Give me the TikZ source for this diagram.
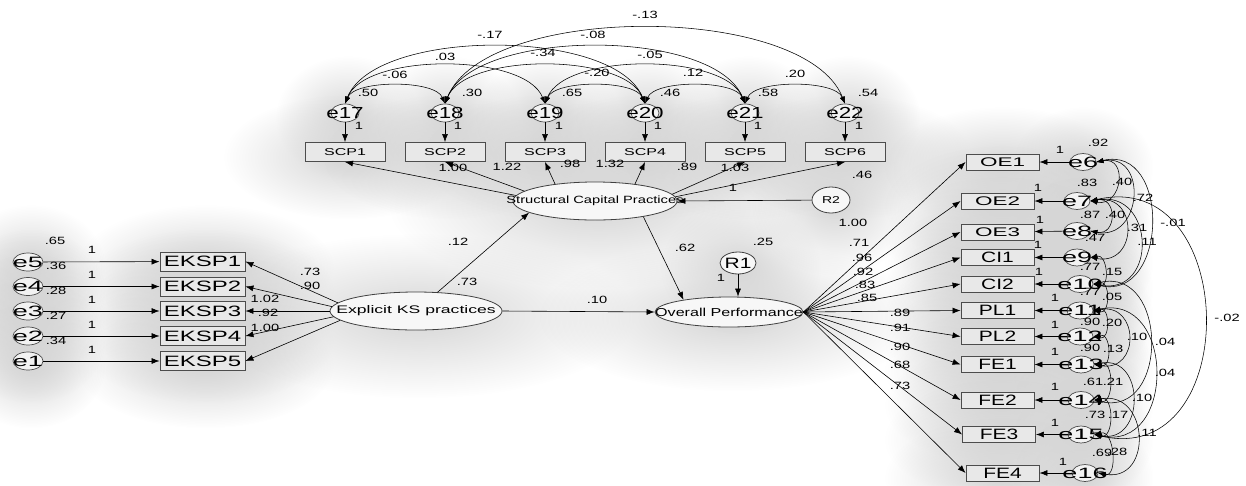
\documentclass[tikz,border=0pt]{standalone}
\usepackage{fontspec}
\setmainfont{Liberation Sans}
\newfontfamily\fA[FakeStretch=1.4]{Liberation Sans}
\newfontfamily\fB[FakeStretch=1.6]{Liberation Sans}
\newfontfamily\fC[FakeStretch=1.8]{Liberation Sans}
\usetikzlibrary{arrows.meta,shapes.geometric,fadings}
\tikzfading[name=glowf, inner color=transparent!0, outer color=transparent!100]
\newcommand\zw[1]{\makebox[0pt]{#1}}
\newcommand\lb[3]{\node[num] (#1) at (#2) {#3};}
\newcommand\glow[4]{\fill[black!16, path fading=glowf] (#1+3,#2+5) ellipse [x radius=#3, y radius=#4];}
\begin{document}
\begin{tikzpicture}[x=1pt,y=-1pt,
 num/.style={font=\fA\fontsize{10.5}{11}\selectfont, inner sep=0pt},
 bx/.style={draw=black!70, fill=black!9, line width=0.9pt, inner sep=0pt},
 ebox/.style={bx, minimum width=85pt, minimum height=19pt, font=\fB\fontsize{15}{15}\selectfont},
 sbox/.style={bx, minimum width=80pt, minimum height=19pt, font=\fB\fontsize{10}{10}\selectfont},
 obox/.style={bx, minimum width=73pt, minimum height=16pt, font=\fC\fontsize{12.5}{12.5}\selectfont},
 pbox/.style={bx, minimum width=73pt, minimum height=16pt, font=\fA\fontsize{15}{15}\selectfont},
 err/.style={ellipse, draw=black!70, fill=black!5, line width=0.7pt, inner sep=0pt, minimum width=30pt, minimum height=18pt, font=\fC\fontsize{15}{15}\selectfont},
 terr/.style={err, minimum width=28pt, font=\fA\fontsize{16}{16}\selectfont},
 rerr/.style={err, minimum width=26pt, minimum height=17pt},
 lat/.style={ellipse, draw=black!75, fill=black!3, line width=0.8pt, inner sep=0pt},
 arr/.style={-{Latex[length=8pt,width=6pt]}, line width=0.6pt},
 cov/.style={{Latex[length=7pt,width=5pt]}-{Latex[length=7pt,width=5pt]}, line width=0.55pt}
]
\useasboundingbox[fill=white] (0,0) rectangle (1246,485);

% ---------- soft glows (background) ----------
\foreach \y in {262,286.5,311,336,361}{\glow{28}{\y}{74}{62}\glow{202.5}{\y}{128}{62}}
\glow{416}{311}{216}{82}
\glow{595}{201}{208}{82}
\glow{729}{312}{192}{74}
\glow{738}{263}{80}{66}
\glow{831}{200}{82}{70}
\foreach \x in {345,445,545,645,745,845}{\glow{\x}{113}{72}{62}\glow{\x}{152}{124}{62}}
\foreach \y in {162,201,232,257.5,284,310.5,336.5,364.5,400,434.5,473}{\glow{999}{\y}{117}{60}\glow{1080}{\y}{70}{60}}

% ---------- left block ----------
\node[err] (e5) at (28,262) {\zw{e5}};
\node[err] (e4) at (28,286.5) {\zw{e4}};
\node[err] (e3) at (28,311) {\zw{e3}};
\node[err] (e2) at (28,336) {\zw{e2}};
\node[err] (e1) at (28,361) {\zw{e1}};
\node[ebox] (k1) at (202.5,261.5) {EKSP1};
\node[ebox] (k2) at (202.5,286.5) {EKSP2};
\node[ebox] (k3) at (202.5,311) {EKSP3};
\node[ebox] (k4) at (202.5,336) {EKSP4};
\node[ebox] (k5) at (202.5,361) {EKSP5};
\foreach \i/\j in {e5/k1,e4/k2,e3/k3,e2/k4,e1/k5} \draw[arr] (\i) -- (\j);

\node[lat, minimum width=172pt, minimum height=38pt, font=\fB\fontsize{11}{11}\selectfont] (eks) at (416,311) {\zw{Explicit KS practices}};
\draw[arr] (eks.174) -- (k1.east);
\draw[arr] (eks.177) -- (k2.east);
\draw[arr] (eks.180) -- (k3.east);
\draw[arr] (eks.184) -- (k4.east);
\draw[arr] (eks.187) -- (k5.east);

% ---------- latent middle ----------
\node[lat, minimum width=164pt, minimum height=38pt, font=\fA\fontsize{10.5}{10.5}\selectfont] (scp) at (595,201) {\zw{Structural Capital Practices}};
\node[lat, minimum width=148pt, minimum height=30pt, font=\fA\fontsize{11.5}{11.5}\selectfont] (ovp) at (729,312) {\zw{Overall Performance}};
\node[lat, minimum width=36pt, minimum height=22pt, font=\fA\fontsize{15}{15}\selectfont] (R1) at (738,263) {\zw{R1}};
\node[lat, minimum width=38pt, minimum height=26pt, font=\fA\fontsize{10}{10}\selectfont] (R2) at (831,200) {R2};

\draw[arr] (eks.41) -- (scp.190);
\draw[arr] (scp.-18) -- (ovp.165);
\draw[arr] (eks.east) -- (ovp.west);
\draw[arr] (R1) -- (R1 |- ovp.north);
\draw[arr] (R2) -- (scp.east);

% ---------- top block ----------
\foreach \k [count=\i from 0] in {17,18,19,20,21,22}{
  \pgfmathsetmacro\xx{345+100*\i}
  \pgfmathtruncatemacro\nn{\i+1}
  \node[terr] (e\k) at (\xx,113) {\zw{e\k}};
  \node[sbox] (s\nn) at (\xx,152) {SCP\nn};
  \draw[arr] (e\k) -- (s\nn);
}
\draw[arr] (scp.176) -- (s1.south);
\draw[arr] (scp.172) -- (s2.south);
\draw[arr] (scp.157) -- (s3.south);
\draw[arr] (scp.23) -- (s4.south);
\draw[arr] (scp.5) -- (s5.south);
\draw[arr] (scp.3) -- (s6.south);

\foreach \a/\b in {17/18,19/20,20/21,21/22}
  \draw[cov] (e\a.north) .. controls +(10,-24) and +(-10,-24) .. (e\b.north);
\foreach \a/\b in {17/19,18/20,19/21}
  \draw[cov] (e\a.north) .. controls +(20,-51) and +(-20,-51) .. (e\b.north);
\foreach \a/\b in {17/20,18/21}
  \draw[cov] (e\a.north) .. controls +(30,-76) and +(-30,-76) .. (e\b.north);
\draw[cov] (e18.north) .. controls +(40,-101) and +(-40,-101) .. (e22.north);

% ---------- right block ----------
\node[obox] (o1) at (1002.5,162) {OE1};
\node[obox] (o2) at (997.5,201) {OE2};
\node[obox] (o3) at (997.5,232) {OE3};
\node[pbox] (c1) at (997.5,257.5) {CI1};
\node[pbox] (c2) at (997.5,284) {CI2};
\node[pbox] (p1) at (997.5,310.5) {PL1};
\node[pbox] (p2) at (997.5,336.5) {PL2};
\node[pbox] (f1) at (997.5,364.5) {FE1};
\node[pbox] (f2) at (997.5,400) {FE2};
\node[pbox] (f3) at (999,434.5) {FE3};
\node[pbox] (f4) at (1002.5,473) {FE4};

\node[rerr] (r6) at (1083,162) {\zw{e6}};
\node[rerr] (r7) at (1077,201) {\zw{e7}};
\node[rerr] (r8) at (1077,231) {\zw{e8}};
\node[rerr] (r9) at (1077,257.5) {\zw{e9}};
\node[rerr] (r10) at (1080,284) {\zw{e10}};
\node[rerr] (r11) at (1080,310.5) {\zw{e11}};
\node[rerr] (r12) at (1080,336.5) {\zw{e12}};
\node[rerr] (r13) at (1081,364.5) {\zw{e13}};
\node[rerr] (r14) at (1081,400) {\zw{e14}};
\node[rerr] (r15) at (1081,434.5) {\zw{e15}};
\node[rerr] (r16) at (1085,473) {\zw{e16}};

\foreach \b/\e in {o1/r6,o2/r7,o3/r8,c1/r9,c2/r10,p1/r11,p2/r12,f1/r13,f2/r14,f3/r15,f4/r16}{
  \draw[arr] (\e) -- (\b);
  \draw[arr] (ovp.east) -- (\b.west);
}

\foreach \a/\b/\h/\k in {6/7/32/6, 6/8/52/10, 6/10/75/18, 7/8/27/5, 7/9/48/8, 7/10/65/12,
   9/10/17/4, 10/11/17/4, 11/12/17/4, 11/13/46/8, 10/14/75/18, 12/13/18/4, 11/15/82/18,
   13/14/20/5, 13/15/51/10, 14/15/20/5, 14/16/55/10, 15/16/20/5, 7/15/150/35}
  \draw[cov] (r\a.east) .. controls +(\h,-\k) and +(\h,\k) .. (r\b.east);

% ---------- labels ----------
\lb{a1}{55,241}{.65}\lb{a2}{92,250}{1}
\lb{a3}{56,266}{.36}\lb{a4}{92,275}{1}
\lb{a5}{56,291}{.28}\lb{a6}{92,300}{1}
\lb{a7}{56,316}{.27}\lb{a8}{92,325}{1}
\lb{a9}{56,341}{.34}\lb{a10}{92,350}{1}
\lb{b1}{310,272}{.73}\lb{b2}{310,286}{.90}\lb{b3}{265,299}{1.02}
\lb{b4}{268,313}{.92}\lb{b5}{265,328}{1.00}
\lb{b6}{458,242}{.12}\lb{b7}{467,282}{.73}\lb{b8}{597,300}{.10}
\lb{b9}{685,248}{.62}\lb{b10}{763,242}{.25}\lb{b11}{721,278}{1}
\lb{c1l}{453,168}{1.00}\lb{c2l}{507,167}{1.22}\lb{c3l}{570,164}{.98}
\lb{c4l}{610,164}{1.32}\lb{c5l}{687,167}{.89}\lb{c6l}{735,168}{1.03}
\lb{c7l}{733,188}{1}\lb{c8l}{862,175}{.46}
\lb{d1}{368,93}{.50}\lb{d2}{472,93}{.30}\lb{d3}{572,93}{.65}
\lb{d4}{670,93}{.46}\lb{d5}{768,93}{.58}\lb{d6}{868,93}{.54}
\lb{d7}{645,15}{-.13}\lb{d8}{490,35}{-.17}\lb{d9}{593,35}{-.08}
\lb{d10}{445,57}{.03}\lb{d11}{543,53}{-.34}\lb{d12}{650,55}{-.05}
\lb{d13}{395,75}{-.06}\lb{d14}{597,73}{-.20}\lb{d15}{693,73}{.12}\lb{d16}{795,74}{.20}
\lb{d17}{359,126}{1}\lb{d18}{458,126}{1}\lb{d19}{559,126}{1}
\lb{d20}{658,126}{1}\lb{d21}{758,126}{1}\lb{d22}{859,126}{1}
\lb{f1l}{853,223}{1.00}\lb{f2l}{859,243}{.71}\lb{f3l}{862,258}{.96}
\lb{f4l}{863,272}{.92}\lb{f5l}{865,285}{.83}\lb{f6l}{867,298}{.85}
\lb{f7l}{900,313}{.89}\lb{f8l}{900,328}{.91}\lb{f9l}{900,347}{.90}
\lb{f10l}{900,365}{.68}\lb{f11l}{900,386}{.73}
\lb{g1}{1060,150}{1}\lb{g2}{1038,188}{1}\lb{g3}{1040,220}{1}\lb{g4}{1038,245}{1}
\lb{g5}{1039,272}{1}\lb{g6}{1055,298}{1}\lb{g7}{1055,325}{1}\lb{g8}{1055,352}{1}
\lb{g9}{1055,387}{1}\lb{g10}{1055,423}{1}\lb{g11}{1063,462}{1}
\lb{h1}{1098,143}{.92}\lb{h2}{1087,183}{.83}\lb{h3}{1090,215}{.87}\lb{h4}{1095,238}{.47}
\lb{h5}{1090,267}{.77}\lb{h6}{1090,292}{.77}\lb{h7}{1090,322}{.90}\lb{h8}{1090,348}{.90}
\lb{h9}{1093,382}{.61}\lb{h10}{1095,415}{.73}\lb{h11}{1102,453}{.69}
\lb{i1}{1122,182}{.40}\lb{i2}{1143,198}{.72}\lb{i3}{1173,223}{-.01}\lb{i4}{1115,215}{.40}
\lb{i5}{1137,228}{.31}\lb{i6}{1147,242}{.11}\lb{i7}{1112,272}{.15}\lb{i8}{1112,297}{.05}
\lb{i9}{1112,323}{.20}\lb{i10}{1137,337}{.10}\lb{i11}{1165,342}{.04}\lb{i12}{1113,349}{.13}
\lb{i13}{1165,373}{.04}\lb{i14}{1113,382}{.21}\lb{i15}{1142,398}{.10}\lb{i16}{1118,415}{.17}
\lb{i17}{1147,433}{.11}\lb{i18}{1117,452}{.28}\lb{i19}{1227,318}{-.02}
\end{tikzpicture}
\end{document}
